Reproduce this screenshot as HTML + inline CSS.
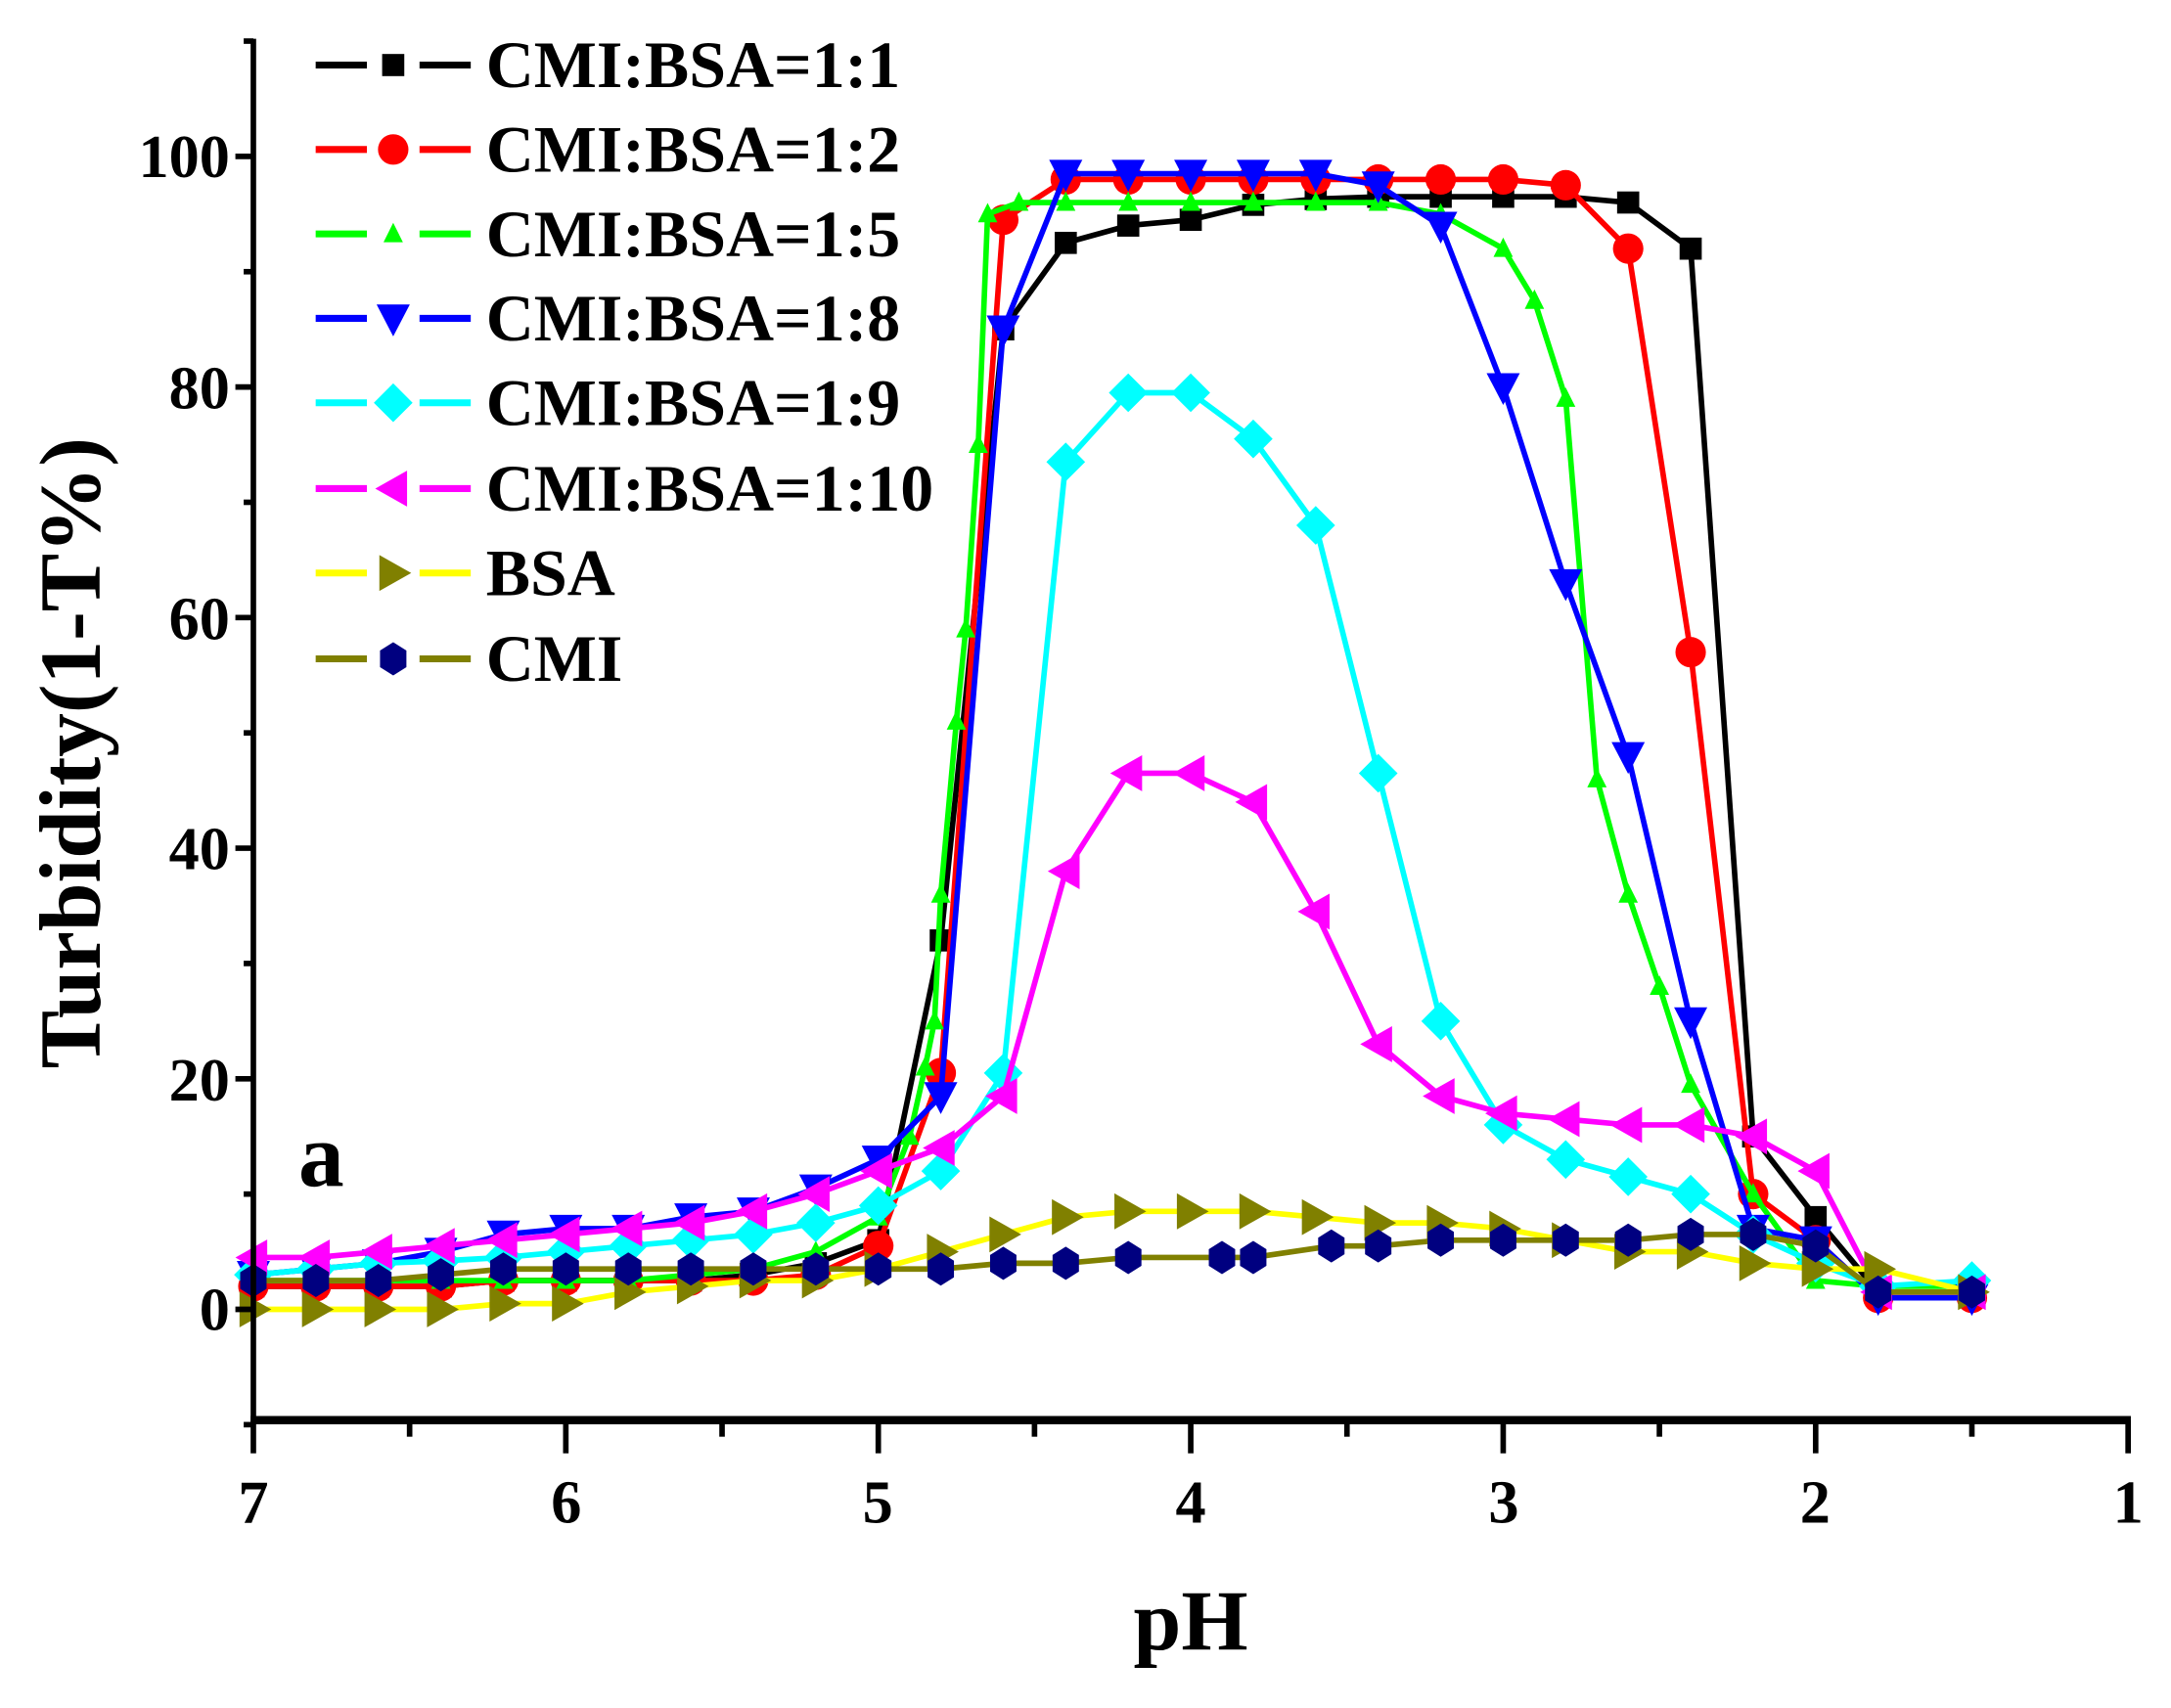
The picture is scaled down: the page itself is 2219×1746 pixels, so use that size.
<!DOCTYPE html>
<html><head><meta charset="utf-8"><style>html,body{margin:0;padding:0;background:#fff}svg{display:block}</style></head>
<body>
<svg id="s" width="2219" height="1746" viewBox="0 0 1568 1234" preserveAspectRatio="none" xmlns="http://www.w3.org/2000/svg" font-family="'Liberation Serif',serif" font-weight="bold">
<g id="plot"></g>
<line x1="183" y1="28" x2="183" y2="1028" stroke="#000" stroke-width="4"/>
<line x1="181" y1="1026" x2="1539" y2="1026" stroke="#000" stroke-width="6"/>
<g id="ticks" stroke="#000" stroke-width="4"></g>
<g font-size="44" text-anchor="end">
<text x="166" y="961">0</text><text x="166" y="628">40</text><text x="166" y="795">20</text>
<text x="166" y="462">60</text><text x="166" y="295">80</text><text x="166" y="128">100</text>
</g>
<g font-size="44" text-anchor="middle">
<text x="183" y="1100">7</text><text x="409" y="1100">6</text><text x="634" y="1100">5</text><text x="860" y="1100">4</text><text x="1086" y="1100">3</text><text x="1311" y="1100">2</text><text x="1537" y="1100">1</text>
</g>
<text x="860" y="1192" font-size="62" text-anchor="middle">pH</text>
<text transform="translate(72,544) rotate(-90)" font-size="63" text-anchor="middle">Turbidity(1-T%)</text>
<text x="232" y="857" font-size="66" text-anchor="middle">a</text>
<g id="leg"></g>
<g font-size="48">
<text x="351" y="63">CMI:BSA=1:1</text>
<text x="351" y="124">CMI:BSA=1:2</text>
<text x="351" y="185">CMI:BSA=1:5</text>
<text x="351" y="246">CMI:BSA=1:8</text>
<text x="351" y="307">CMI:BSA=1:9</text>
<text x="351" y="369">CMI:BSA=1:10</text>
<text x="351" y="430">BSA</text>
<text x="351" y="492">CMI</text>
</g>
</svg>
<script>
const NS="http://www.w3.org/2000/svg";
const X=p=>183+(7-p)*225.67, Y=v=>946-v*8.33;
function el(t,a,par){const e=document.createElementNS(NS,t);for(const k in a)e.setAttribute(k,a[k]);document.getElementById(par).appendChild(e);return e;}
for(let v=-10;v<=110;v+=10){const maj=v%20==0;el('line',{x1:183,x2:maj?170:176,y1:Y(v),y2:Y(v)},'ticks');}
for(let p=7;p>=1;p-=0.5){const maj=Math.abs(p-Math.round(p))<0.01;el('line',{x1:X(p),x2:X(p),y1:1026,y2:maj?1050:1038},'ticks');}
const P=[7,6.8,6.6,6.4,6.2,6.0,5.8,5.6,5.4,5.2,5.0,4.8,4.6,4.4,4.2,4.0,3.8,3.6,3.4,3.2,3.0,2.8,2.6,2.4,2.2,2.0,1.8,1.5];
function z(vals,ps){return (ps||P).map((p,i)=>[p,vals[i]]);}
const S=[
{c:'#000',m:'sq',mc:'#000',d:z([2,2,2,2,2.5,2.5,2.5,2.5,3,4,6,32,85,92.5,94,94.5,95.8,96.3,96.5,96.5,96.5,96.5,96,92,15,8,1.5,1.5])},
{c:'#f00',m:'ci',mc:'#f00',d:z([2,2,2,2,2.5,2.5,2.5,2.5,2.5,3,5.5,20.5,94.5,98,98,98,98,98,98,98,98,97.5,92,57,10,6,1,1])},
{c:'#0f0',m:'tr',mc:'#0f0',d:z([2.5,2.5,2.5,2.5,2.5,2.5,2.5,3,3.5,5,8,15,21,25,36,51,59,75,95,96,96,96,96,96,96,96,95,92,87.5,79,46,36,28,19.5,10,2.5,2,2],[7,6.8,6.6,6.4,6.2,6,5.8,5.6,5.4,5.2,5.0,4.9,4.85,4.82,4.8,4.75,4.72,4.68,4.65,4.55,4.4,4.2,4.0,3.8,3.6,3.4,3.2,3.0,2.9,2.8,2.7,2.6,2.5,2.4,2.2,2.0,1.8,1.5])},
{c:'#00f',m:'dt',mc:'#00f',d:z([3,3.5,4,5,6.5,7,7,8,8.5,10.5,13,18.5,85,98.5,98.5,98.5,98.5,98.5,97.5,94,80,63,48,25,7,6,1,1])},
{c:'#0ff',m:'di',mc:'#0ff',d:z([3,3.5,4,4.2,4.5,5,5.5,6,6.5,7.5,9,12,20.5,73.5,79.5,79.5,75.5,68,46.5,25,16,13,11.5,10,6.5,4,2,2.5])},
{c:'#f0f',m:'lt',mc:'#f0f',d:z([4.5,4.5,5,5.5,6,6.5,7,7.5,8.5,10,12,14,18.5,38,46.5,46.5,44,34.5,23,18.5,17,16.5,16,16,15,12,1.5,1.5])},
{c:'#ff0',m:'rt',mc:'#808000',d:z([0,0,0,0,0.5,0.5,1.5,2,2.5,2.5,3.5,5,6.5,8,8.5,8.5,8.5,8,7.5,7.5,7,6,5,5,4,3.5,3.5,1.5])},
{c:'#808000',m:'hx',mc:'#000080',d:z([2.5,2.5,2.5,3,3.5,3.5,3.5,3.5,3.5,3.5,3.5,3.5,4,4,4.5,4.5,4.5,5.5,5.5,6,6,6,6,6.5,6.5,5.5,1.5,1.5],[7,6.8,6.6,6.4,6.2,6.0,5.8,5.6,5.4,5.2,5.0,4.8,4.6,4.4,4.2,3.9,3.8,3.55,3.4,3.2,3.0,2.8,2.6,2.4,2.2,2.0,1.8,1.5])}
];
function mk(t,x,y,c,par,r){r=r||11;
 if(t=='sq')el('rect',{x:x-r+1,y:y-r+1,width:2*r-2,height:2*r-2,fill:c},par);
 else if(t=='ci')el('circle',{cx:x,cy:y,r:r,fill:c},par);
 else if(t=='tr')el('polygon',{points:`${x},${y-8} ${x-7},${y+6} ${x+7},${y+6}`,fill:c},par);
 else if(t=='dt')el('polygon',{points:`${x-12},${y-10} ${x+12},${y-10} ${x},${y+13}`,fill:c},par);
 else if(t=='di')el('polygon',{points:`${x},${y-14} ${x+14},${y} ${x},${y+14} ${x-14},${y}`,fill:c},par);
 else if(t=='lt')el('polygon',{points:`${x-13},${y} ${x+10},${y-13} ${x+10},${y+13}`,fill:c},par);
 else if(t=='rt')el('polygon',{points:`${x+13},${y} ${x-10},${y-13} ${x-10},${y+13}`,fill:c},par);
 else if(t=='hx'){let p=[];for(let i=0;i<6;i++){const a=Math.PI/3*i+Math.PI/2;p.push((x+11*Math.cos(a))+','+(y+12*Math.sin(a)));}el('polygon',{points:p.join(' '),fill:c},par);}
}
S.forEach(s=>{
 el('polyline',{points:s.d.map(q=>X(q[0])+','+Y(q[1])).join(' '),fill:'none',stroke:s.c,'stroke-width':4,'stroke-linejoin':'round'},'plot');
 s.d.forEach(q=>mk(s.m,X(q[0]),Y(q[1]),s.mc,'plot',s.m=='sq'?9:11));
});
const LY=[47,108,169,230,291,353,414,476];
S.forEach((s,i)=>{const y=LY[i];
 el('line',{x1:228,x2:265,y1:y,y2:y,stroke:s.c,'stroke-width':5},'leg');
 el('line',{x1:303,x2:340,y1:y,y2:y,stroke:s.c,'stroke-width':5},'leg');
 mk(s.m,284,y,s.mc,'leg',s.m=='sq'?9:11);
});
</script>
</body></html>
